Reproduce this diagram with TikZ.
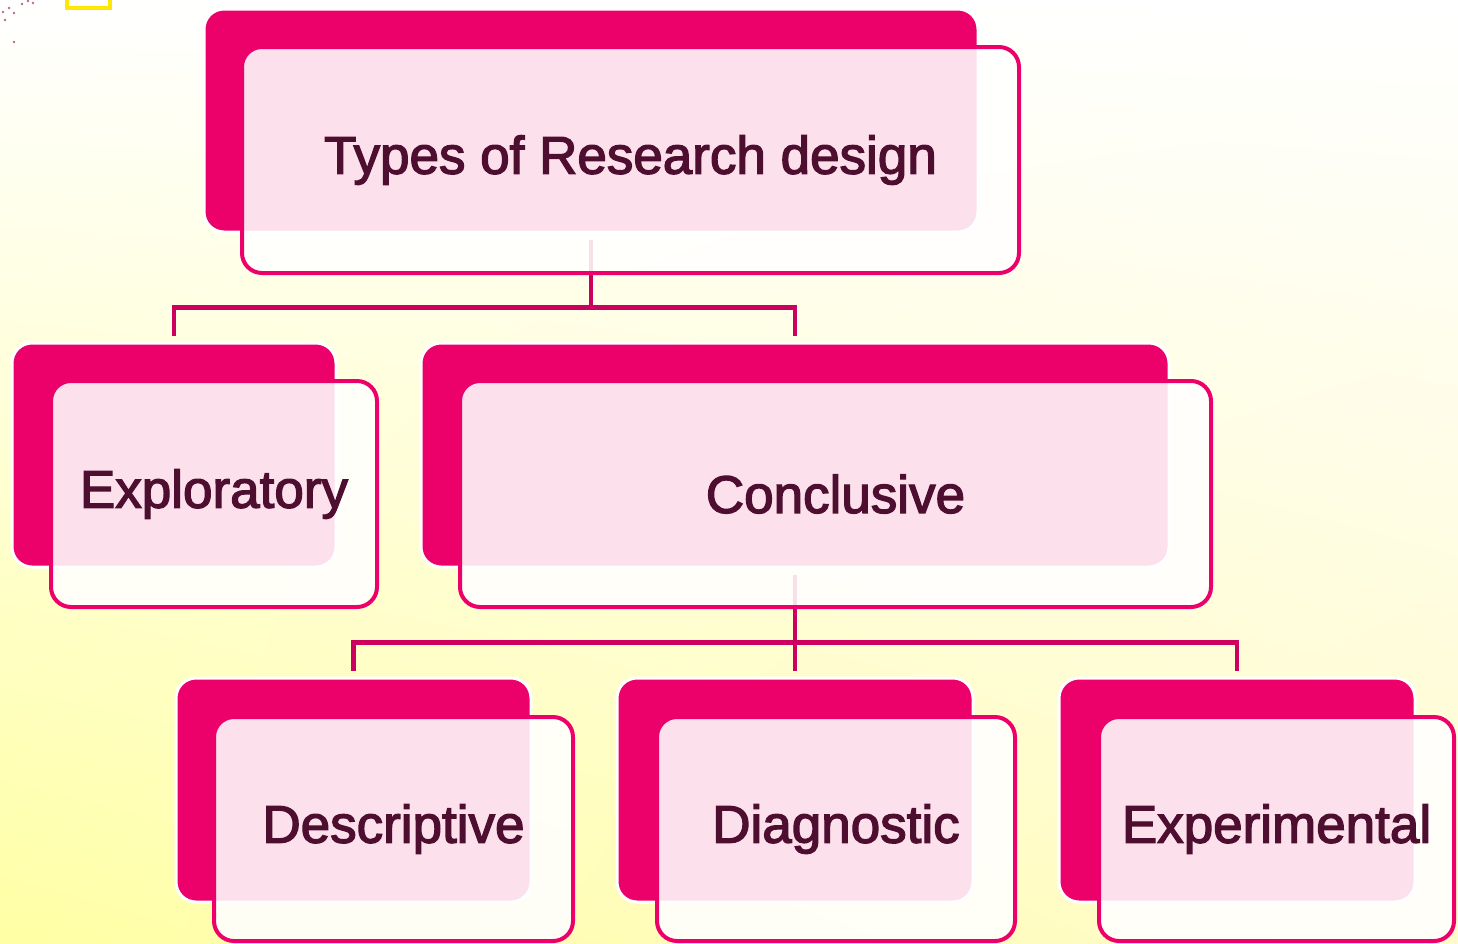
\documentclass[tikz,border=0pt]{standalone}
\usepackage{fontspec}
\setmainfont{Liberation Sans}
\newfontfamily\boxfont{Liberation Sans}[FakeBold=2.5]
\usetikzlibrary{shadings}
\definecolor{rdpink}{RGB}{236,0,106}
\definecolor{rdlink}{RGB}{204,0,94}
\definecolor{rdtext}{RGB}{77,14,48}
\definecolor{rdyellow}{RGB}{255,255,165}
\definecolor{rdcream}{RGB}{255,251,205}
\tikzset{
  backbox/.style={rectangle, rounded corners=20, fill=rdpink, draw=white, line width=3},
  frontbox/.style={rectangle, rounded corners=20, draw=rdpink, line width=4,
    fill=white, fill opacity=0.88, text opacity=1, text=rdtext,
    font=\boxfont\fontsize{53}{60}\selectfont},
  link/.style={draw=rdlink, line width=4.5}
}
\begin{document}
\begin{tikzpicture}[x=1pt, y=-1pt]
  \useasboundingbox (0,0) rectangle (1458,943);
  \shade[upper left=white, upper right=white, lower left=rdyellow, lower right=rdcream]
    (0,0) rectangle (1458,943);
  % bits of the slide decoration in the corner
  \draw[yellow!90!orange, line width=4] (67,-10) rectangle (110,8);
  \foreach \px/\py in {3/12, 9/8, 14/13, 22/4, 28/1, 33/3, 14/42, 5/20}
    \fill[rdtext!60!rdpink, opacity=0.6] (\px,\py) circle (1.3);

  % back (solid) boxes
  \node[backbox, minimum width=774, minimum height=223] (types-b) at (591,120.5) {};
  \node[backbox, minimum width=324, minimum height=224] (explo-b) at (174,455) {};
  \node[backbox, minimum width=748, minimum height=224] (concl-b) at (795,455) {};
  \node[backbox, minimum width=355, minimum height=224] (descr-b) at (353.5,790) {};
  \node[backbox, minimum width=356, minimum height=224] (diagn-b) at (795,790) {};
  \node[backbox, minimum width=356, minimum height=224] (exper-b) at (1237,790) {};

  % tree lines
  \draw[link] ([yshift=-6]types-b.south) -- ++(0,68) coordinate (t1) -| ([yshift=6]explo-b.north);
  \draw[link] (t1) -| ([yshift=6]concl-b.north);
  \draw[link] ([yshift=-6]concl-b.south) -- ++(0,68) coordinate (c1) -| ([yshift=6]descr-b.north);
  \draw[link] (c1) -| ([yshift=6]exper-b.north);
  \draw[link] (c1) -- ([yshift=6]diagn-b.north);

  % front boxes with the labels
  \node[frontbox, minimum width=777, minimum height=226] (types) at (630.5,160) {Types of Research design};
  \node[frontbox, minimum width=326, minimum height=226] (explo) at (214,494) {Exploratory};
  \node[frontbox, minimum width=751, minimum height=226] (concl) at (835.5,494) {Conclusive};
  \node[frontbox, minimum width=359, minimum height=224] (descr) at (393.5,829) {Descriptive};
  \node[frontbox, minimum width=358, minimum height=224] (diagn) at (836,829) {Diagnostic};
  \node[frontbox, minimum width=355, minimum height=224] (exper) at (1276.5,829) {Experimental};
\end{tikzpicture}
\end{document}
